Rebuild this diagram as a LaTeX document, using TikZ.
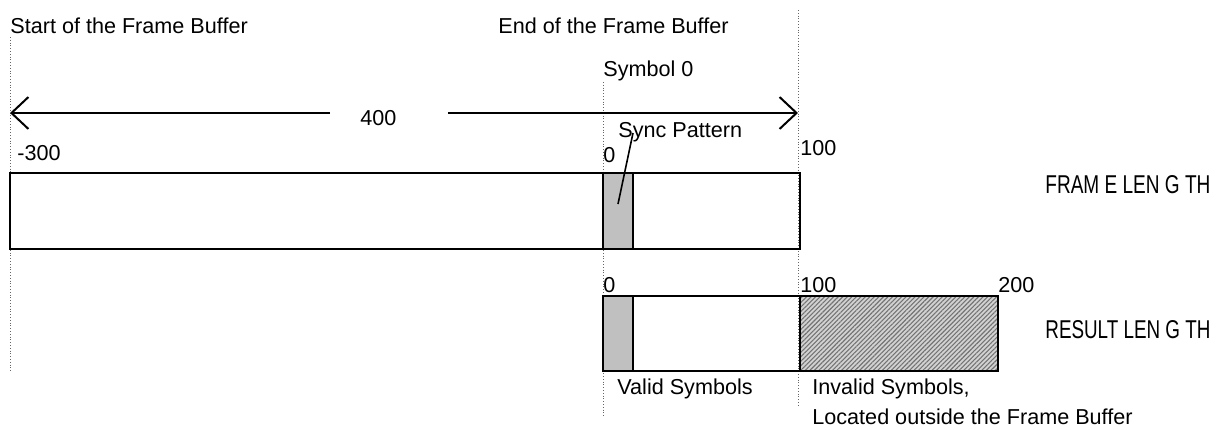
\documentclass[tikz,border=0pt]{standalone}
\usepackage{fontspec}
\setmainfont{Liberation Sans}
\usetikzlibrary{arrows.meta,calc,patterns.meta}
\definecolor{syncgray}{RGB}{192,192,192}

\begin{document}
\begin{tikzpicture}[
  x=0.5pt, y=-0.5pt,
  lbl/.style={inner sep=0pt, anchor=base west, font=\fontsize{10.8pt}{13pt}\selectfont},
  guide/.style={densely dotted, line width=0.4pt, black!60},
  bar/.style={draw, line width=1.2pt},
  dimarr/.style={-{Straight Barb[length=8.5pt,width=16pt]}, line width=1pt},
]
\useasboundingbox (0,0) rectangle (1221,429);
% guide lines
\coordinate (fbs top) at (10,37);
\coordinate (fbs bot) at (10,372);
\coordinate (fbe top) at (798,10);
\coordinate (fbe bot) at (798,407);
\coordinate (sym top) at (603,82);
\coordinate (sym bot) at (603,417);
\draw[guide] (fbs top) -- (fbs bot);
\draw[guide] (fbe top) -- (fbe bot);
\draw[guide] (sym top) -- (sym bot);

% frame buffer
\draw[bar] (10,173) rectangle (800,249);
\draw[bar, fill=syncgray] (603,173) rectangle (633,249);
% result
\draw[bar, fill=syncgray] (603,296) rectangle (633,371);
\draw[bar] (633,296) rectangle (800,371);
\draw[bar, preaction={fill=gray!35},
  pattern={Lines[angle=45,distance=1.6pt,line width=0.55pt]}, pattern color=black!55]
  (800,296) rectangle (998,371);

% labels
\node[lbl] (start) at (10,33) {Start of the Frame Buffer};
\node[lbl] (end) at (498,33) {End of the Frame Buffer};
\node[lbl] (sym) at (603,76) {Symbol 0};
\node[lbl] (len) at (360,125) {400};
\node[lbl] (fmin) at (17,160) {-300};
\node[lbl] (sync) at (618,137) {Sync Pattern};
\node[lbl] (fzero) at (603,162) {0};
\node[lbl] (fmax) at (800,155) {100};
\node[lbl] (flen) at (1045,193) {\resizebox{82.5pt}{9pt}{FRAM E LEN G TH}};
\node[lbl] (rzero) at (603,292) {0};
\node[lbl] (rmid) at (800,292) {100};
\node[lbl] (rmax) at (998,292) {200};
\node[lbl] (rlen) at (1045,338) {\resizebox{82.5pt}{9pt}{RESULT LEN G TH}};
\node[lbl] (valid) at (617,394) {Valid Symbols};
\node[lbl] (inval) at (812,394) {Invalid Symbols,};
\node[lbl] (outside) at (812,424) {Located outside the Frame Buffer};

% length arrow
\coordinate (la) at (10,113);
\coordinate (ra) at (798,113);
\draw[dimarr, shorten <=15pt] (len.west |- la) -- (la);
\draw[dimarr, shorten <=25.5pt] (len.east |- la) -- (ra);

% sync pointer
\coordinate (syncpt) at (618,204);
\draw[line width=0.8pt] ($(sync.base west)+(15,-4)$) -- (syncpt);
\end{tikzpicture}
\end{document}
